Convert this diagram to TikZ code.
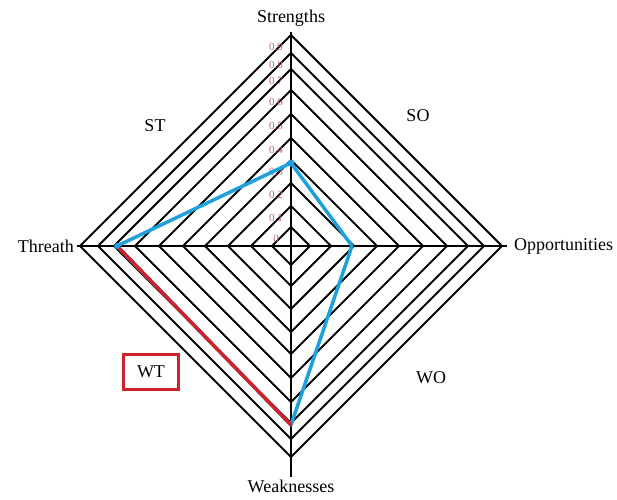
\documentclass[tikz,border=0pt]{standalone}
\usepackage{fontspec}
\setmainfont{Liberation Serif}
\usepackage{xcolor}
\usepackage{tikz}
\definecolor{dataline}{RGB}{30,160,220}
\definecolor{wtline}{RGB}{205,35,45}
\definecolor{scalepink}{RGB}{190,100,120}
\tikzset{
  axislabel/.style = {inner sep=1pt, font=\fontsize{18}{20}\selectfont},
  ring/.style = {draw, black, line width=2pt, line join=miter},
  scaletext/.style = {inner sep=0pt, font=\fontsize{11}{12}\selectfont, text=scalepink},
  datapoly/.style = {draw, dataline, line width=3.5pt, line join=round},
  wtedge/.style = {draw, wtline, line width=3.5pt, line cap=round},
  wtbox/.style = {draw=wtline, line width=2.5pt, minimum width=55pt, minimum height=35pt, axislabel}
}
\begin{document}
\begin{tikzpicture}[x=1pt, y=1pt]
\useasboundingbox (-291,-253) rectangle (326,246);
% rings of the scale
\foreach \r/\v in {19/0, 40/0.1, 63/0.2, 86/0.3, 108/0.4, 132/0.5, 156/0.6, 177/0.7, 193/0.8, 211/0.9}{
  \draw [ring] (\r,0) -- (0,\r) -- (-\r,0) -- (0,-\r) -- cycle;
  \node [scaletext] at (-15,\r-12) {\v};
}
% axes
\coordinate (axw) at (-214,0);
\coordinate (axe) at (216,0);
\coordinate (axn) at (0,214);
\coordinate (axs) at (0,-231);
\draw [ring] (axw) -- (axe);
\draw [ring] (axn) -- (axs);
% labels
\node [axislabel, anchor=south] (str) at (0,218) {Strengths};
\node [axislabel, anchor=north] (wea) at (0,-233) {Weaknesses};
\node [axislabel, anchor=east] (thr) at (-216,0) {Threath};
\node [axislabel, anchor=west] (opp) at (222,0) {Opportunities};
\node [axislabel] (st) at (-136,120) {ST};
\node [axislabel] (so) at (127,130) {SO};
\node [axislabel] (wo) at (140,-132) {WO};
\node [wtbox] (wt) at (-140,-126) {WT};
% data
\coordinate (ds) at (0,83);
\coordinate (do) at (61,0);
\coordinate (dw) at (0,-179);
\coordinate (dt) at (-174,0);
\draw [datapoly] (dt) -- (ds) -- (do) -- (dw) -- cycle;
\draw [wtedge] (dt) -- (dw);
\fill [dataline] (ds) circle (3.5pt);
\fill [dataline] (dt) circle (3pt);
\end{tikzpicture}
\end{document}
